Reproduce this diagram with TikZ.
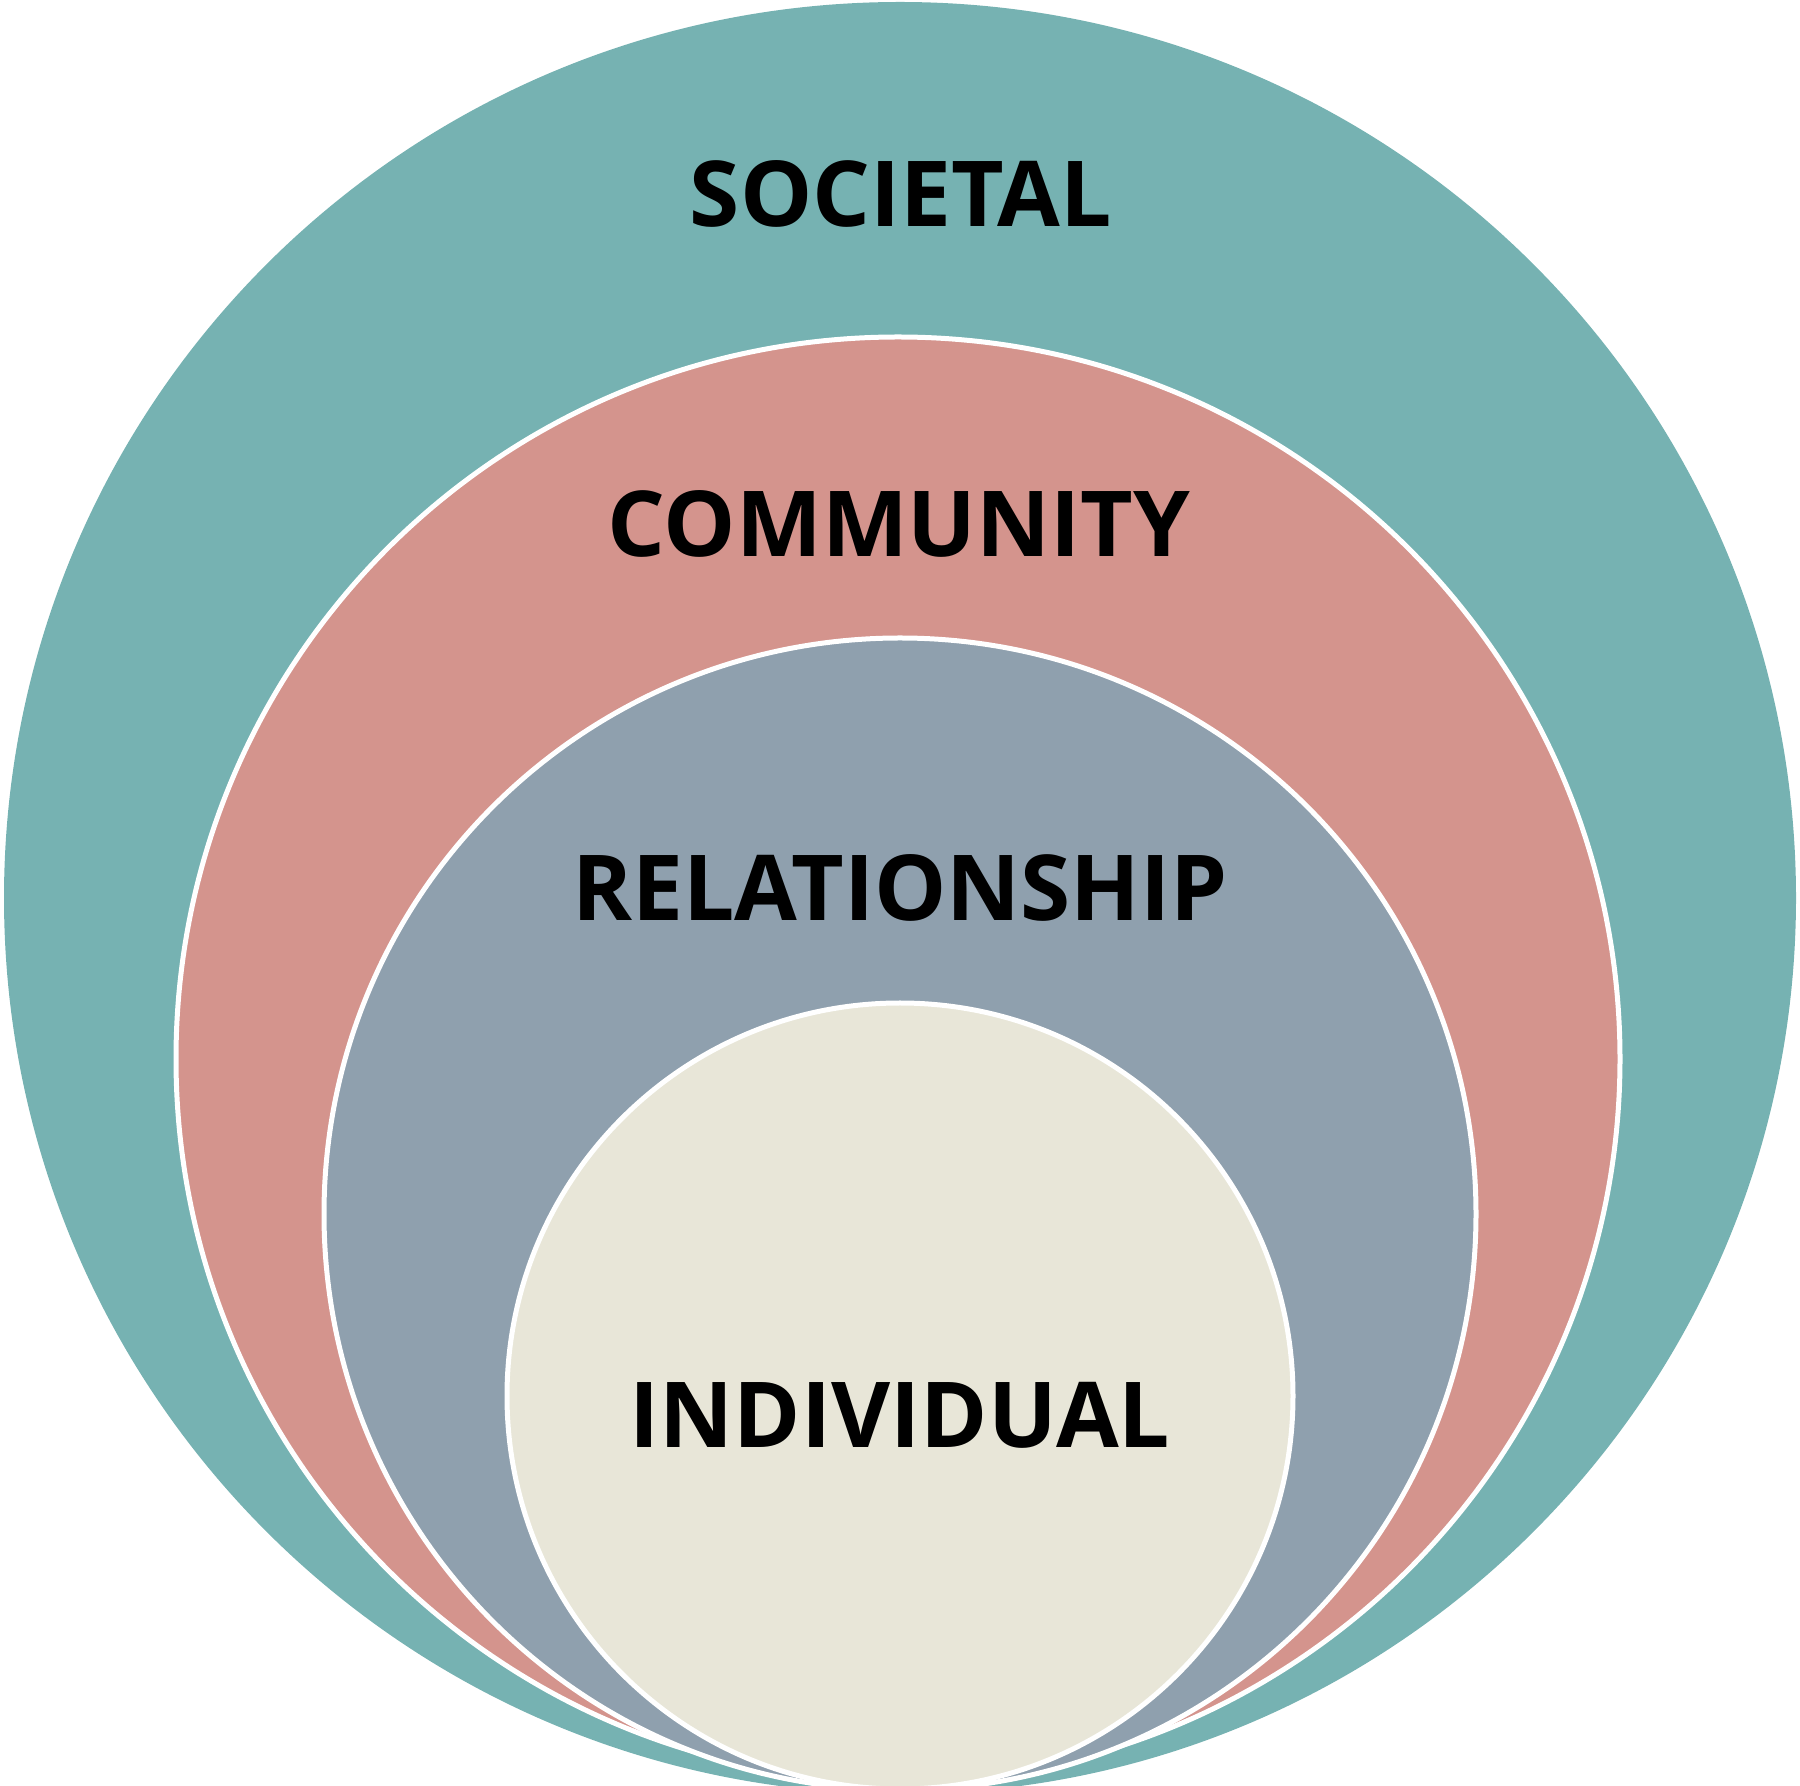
\documentclass[tikz,border=0pt]{standalone}
\usepackage{fontspec}
\setmainfont{Open Sans}
\definecolor{societal}{RGB}{118,178,178}
\definecolor{community}{RGB}{212,148,141}
\definecolor{relation}{RGB}{143,160,174}
\definecolor{individ}{RGB}{232,230,216}
\tikzset{
  ring/.style={circle, inner sep=0pt, draw=white, line width=2.5pt},
  lbl/.style={font=\fontsize{45.5}{48}\selectfont\bfseries, text=black, inner sep=0pt}
}
\begin{document}
\begin{tikzpicture}
\useasboundingbox (0pt,0pt) rectangle (900pt,892.5pt);
\begin{scope}
\clip (0pt,0pt) rectangle (900pt,892.5pt);
\node[circle, inner sep=0pt, fill=societal, minimum size=896pt] (soc) at (450pt,443.5pt) {};
\node[ring, fill=community, minimum size=722pt] (com) at (449pt,363pt) {};
\node[ring, fill=relation, minimum size=576pt] (rel) at (450pt,285.5pt) {};
\node[ring, fill=individ, minimum size=393pt] (ind) at (450pt,194.5pt) {};
\end{scope}
\node[lbl] (tsoc) at (450.5pt,795.3pt) {SOCIETAL};
\node[lbl] (tcom) at (449.5pt,630.5pt) {COMMUNITY};
\node[lbl] (trel) at (450pt,448.5pt) {RELATIONSHIP};
\node[lbl] (tind) at (450pt,185pt) {INDIVIDUAL};
\end{tikzpicture}
\end{document}
